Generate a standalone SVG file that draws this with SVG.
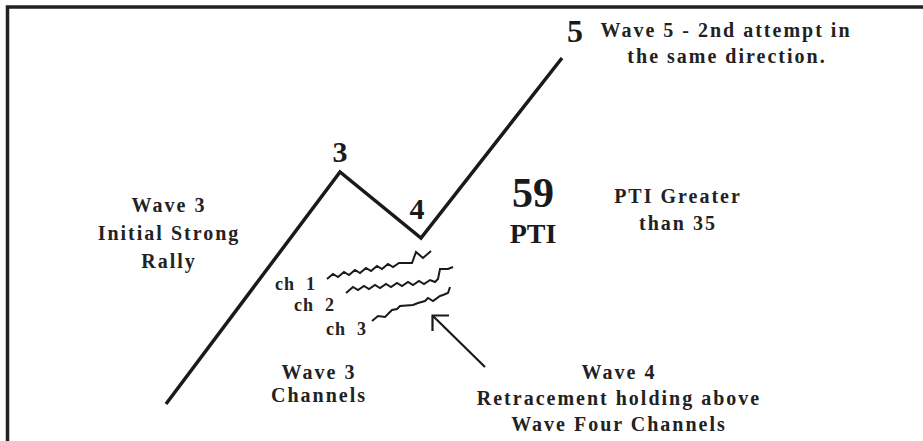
<svg xmlns="http://www.w3.org/2000/svg" width="923" height="441" viewBox="0 0 923 441">
<style>
.lbl{font-family:"Liberation Serif","Times New Roman",serif;font-weight:bold;fill:#222;font-size:20px;letter-spacing:2px;text-anchor:middle}
.num{font-family:"Liberation Serif","Times New Roman",serif;font-weight:bold;fill:#1a1a1a;text-anchor:middle}
.ch{font-family:"Liberation Serif","Times New Roman",serif;font-weight:bold;fill:#222;font-size:18px;letter-spacing:1px}
.wave{fill:none;stroke:#1a1a1a;stroke-width:3.5;stroke-linejoin:miter}
.zig{fill:none;stroke:#1a1a1a;stroke-width:2;stroke-linejoin:miter}
</style>
<rect width="923" height="441" fill="#fff"/>
<rect id="frame" x="7.5" y="7" width="930" height="450" fill="none" stroke="#222" stroke-width="3.5"/>
<g id="connectors">
<polyline id="wave" class="wave" points="166,404 340,172 421,238 562,58"/>
<polyline id="ch1-line" class="zig" points="327,279 333,274 338,277 344,272 349,275 355,270 360,273 366,268 371,271 377,266 382,269 388,264 393,267 399,263 412,263 416,252 423,258 431,251"/>
<polyline id="ch2-line" class="zig" points="346,293 353,287 358,290 364,286 369,289 375,285 380,288 386,284 391,287 397,283 402,286 408,282 413,285 419,281 424,284 430,280 435,282 438,279 440,269 448,269 453,267"/>
<polyline id="ch3-line" class="zig" points="372,321 378,316 385,317 392,310 397,309 400,306 413,305 418,303 425,301 428,298 433,301 440,296 443,295 448,293 450,287"/>
<g id="arrow" fill="none" stroke="#1a1a1a" stroke-width="2.2">
<line x1="485" y1="367" x2="433" y2="316"/>
<polyline points="449,315.5 432.5,315.5 432.5,331"/>
</g>
</g>
<g id="n5"><text class="num" x="575" y="42" font-size="32">5</text></g>
<g id="n3"><text class="num" x="340" y="162" font-size="30">3</text></g>
<g id="n4"><text class="num" x="417" y="219" font-size="30">4</text></g>
<g id="pti"><text class="num" x="533" y="207" font-size="42">59</text><text class="num" x="533" y="243" font-size="28">PTI</text></g>
<g id="wave5-label"><text class="lbl" x="726" y="37">Wave 5 - 2nd attempt in</text><text class="lbl" x="727" y="63">the same direction.</text></g>
<g id="wave3-label"><text class="lbl" x="169" y="212">Wave 3</text><text class="lbl" x="169" y="240">Initial Strong</text><text class="lbl" x="169" y="268">Rally</text></g>
<g id="pti-label"><text class="lbl" x="678" y="203">PTI Greater</text><text class="lbl" x="678" y="230">than 35</text></g>
<g id="ch1"><text class="ch" x="275" y="290" xml:space="preserve">ch  1</text></g>
<g id="ch2"><text class="ch" x="294" y="311" xml:space="preserve">ch  2</text></g>
<g id="ch3"><text class="ch" x="326" y="335" xml:space="preserve">ch  3</text></g>
<g id="channels-label"><text class="lbl" x="319" y="379">Wave 3</text><text class="lbl" x="319" y="402">Channels</text></g>
<g id="wave4-label"><text class="lbl" x="619" y="379">Wave 4</text><text class="lbl" x="619" y="405">Retracement holding above</text><text class="lbl" x="619" y="431">Wave Four Channels</text></g>
</svg>
